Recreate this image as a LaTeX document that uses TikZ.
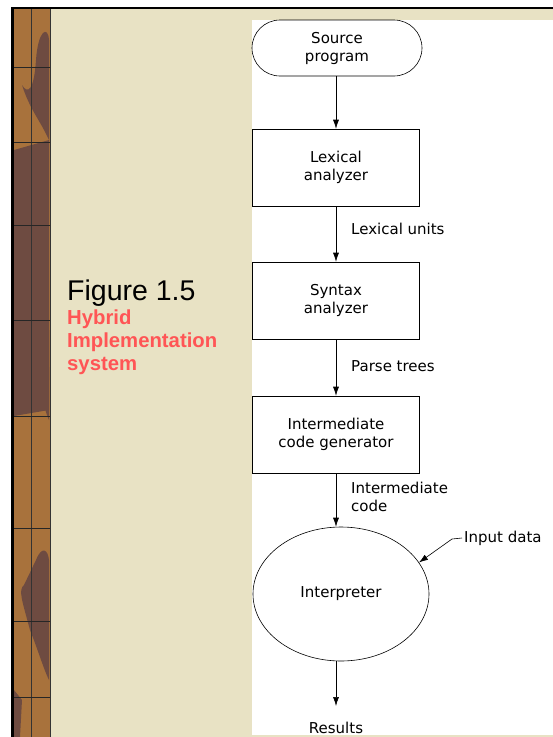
\documentclass[tikz,border=0pt]{standalone}
\usepackage{fontspec}
\setmainfont{DejaVu Sans}
\newfontfamily\arialfont{Liberation Sans}
\usetikzlibrary{arrows.meta,shapes.geometric,shapes.misc}
\definecolor{beige}{HTML}{E8E2C4}
\definecolor{brownlight}{HTML}{A8723C}
\definecolor{browndark}{HTML}{6E4B41}
\definecolor{titlered}{HTML}{FF5555}
\tikzset{
  flowfont/.style={font=\fontsize{15}{18}\selectfont},
  procbox/.style={draw=black, line width=0.6pt, fill=white, minimum width=167pt, minimum height=77pt, align=center, flowfont, inner sep=0pt},
  flowlabel/.style={anchor=west, align=left, flowfont, inner sep=0pt},
  flowarrow/.style={draw=black, line width=0.6pt, -{Latex[length=9pt,width=6pt]}}
}
\begin{document}
\begin{tikzpicture}[x=1pt,y=-1pt]
\useasboundingbox (0,0) rectangle (553,737);
% page background
\fill[white] (0,0) rectangle (553,737);
\fill[beige] (50,9) rectangle (553,737);
% brown strip
\fill[brownlight] (14,9) rectangle (50,737);
\fill[browndark] (36,60) .. controls (38,30) and (48,25) .. (49,40) -- (49,140) .. controls (40,120) and (30,110) .. (22,85) .. controls (28,95) and (34,90) .. (36,60) -- cycle;
\fill[browndark] (14,150) -- (49,140) -- (49,420) .. controls (40,400) and (30,340) .. (14,300) -- cycle;
\fill[browndark] (14,300) -- (49,330) -- (49,410) -- (14,416) -- cycle;
\fill[browndark] (32,367) .. controls (36,380) and (45,385) .. (49,380) -- (49,367) -- cycle;
\fill[browndark] (36,560) .. controls (42,545) and (48,550) .. (49,560) -- (49,680) .. controls (44,670) and (38,650) .. (30,630) .. controls (22,600) and (18,590) .. (24,585) -- cycle;
\fill[browndark] (14,690) -- (22,700) -- (20,737) -- (14,737) -- cycle;
\draw[black!80, line width=0.8pt] (31,9) -- (31,737);
\foreach \yy in {67,142,225,320,416,528,621,697}
  \draw[black!85, line width=0.8pt] (14,\yy) -- (50,\yy);
\draw[black!80, line width=1pt] (50.5,9) -- (50.5,737);
% black frame lines
\fill[black] (11,7) rectangle (553,9);
\fill[black] (11,7) rectangle (14,737);
% white panel
\fill[white] (252,20) rectangle (553,735);
% title
\node[anchor=base west, inner sep=0pt, font=\arialfont\fontsize{28.5}{30}\selectfont] (fig) at (67,300) {Figure 1.5};
\node[anchor=north west, inner sep=0pt, align=left, text=titlered, font=\arialfont\bfseries\fontsize{20.3}{23}\selectfont] (cap) at (67,310) {Hybrid\\Implementation\\system};
% flow nodes
\node[draw=black, line width=0.6pt, fill=white, rounded rectangle, minimum width=170pt, minimum height=56pt, align=center, flowfont, inner sep=0pt] (src) at (337,48) {Source\\program};
\node[procbox] (lex) at (336,167.5) {Lexical\\analyzer};
\node[procbox] (syn) at (336,300.5) {Syntax\\analyzer};
\node[procbox] (icg) at (336,434.5) {Intermediate\\code generator};
\node[draw=black, line width=0.6pt, fill=white, ellipse, minimum width=176pt, minimum height=134pt, inner sep=0pt, flowfont] (interp) at (341,594) {Interpreter};
\node[inner sep=0pt, flowfont] (res) at (336,728) {Results};
% labels
\node[flowlabel] (lu) at (351,229) {Lexical units};
\node[flowlabel] (pt) at (351,366) {Parse trees};
\node[flowlabel] (ic) at (351,497) {Intermediate\\code};
\node[flowlabel] (inp) at (464,538) {Input data};
\coordinate (bend) at (452,539);
% connectors
\draw[flowarrow] (src.south -| lex.north) -- (lex.north);
\draw[flowarrow] (lex.south) -- (syn.north);
\draw[flowarrow] (syn.south) -- (icg.north);
\draw[flowarrow] (icg.south) -- (icg.south |- interp.north);
\draw[flowarrow, shorten >=16pt] (interp.south -| icg.south) -- (res.north);
\draw[flowarrow] ([xshift=-2pt]inp.west) -- (bend) -- (interp.22);
\end{tikzpicture}
\end{document}
